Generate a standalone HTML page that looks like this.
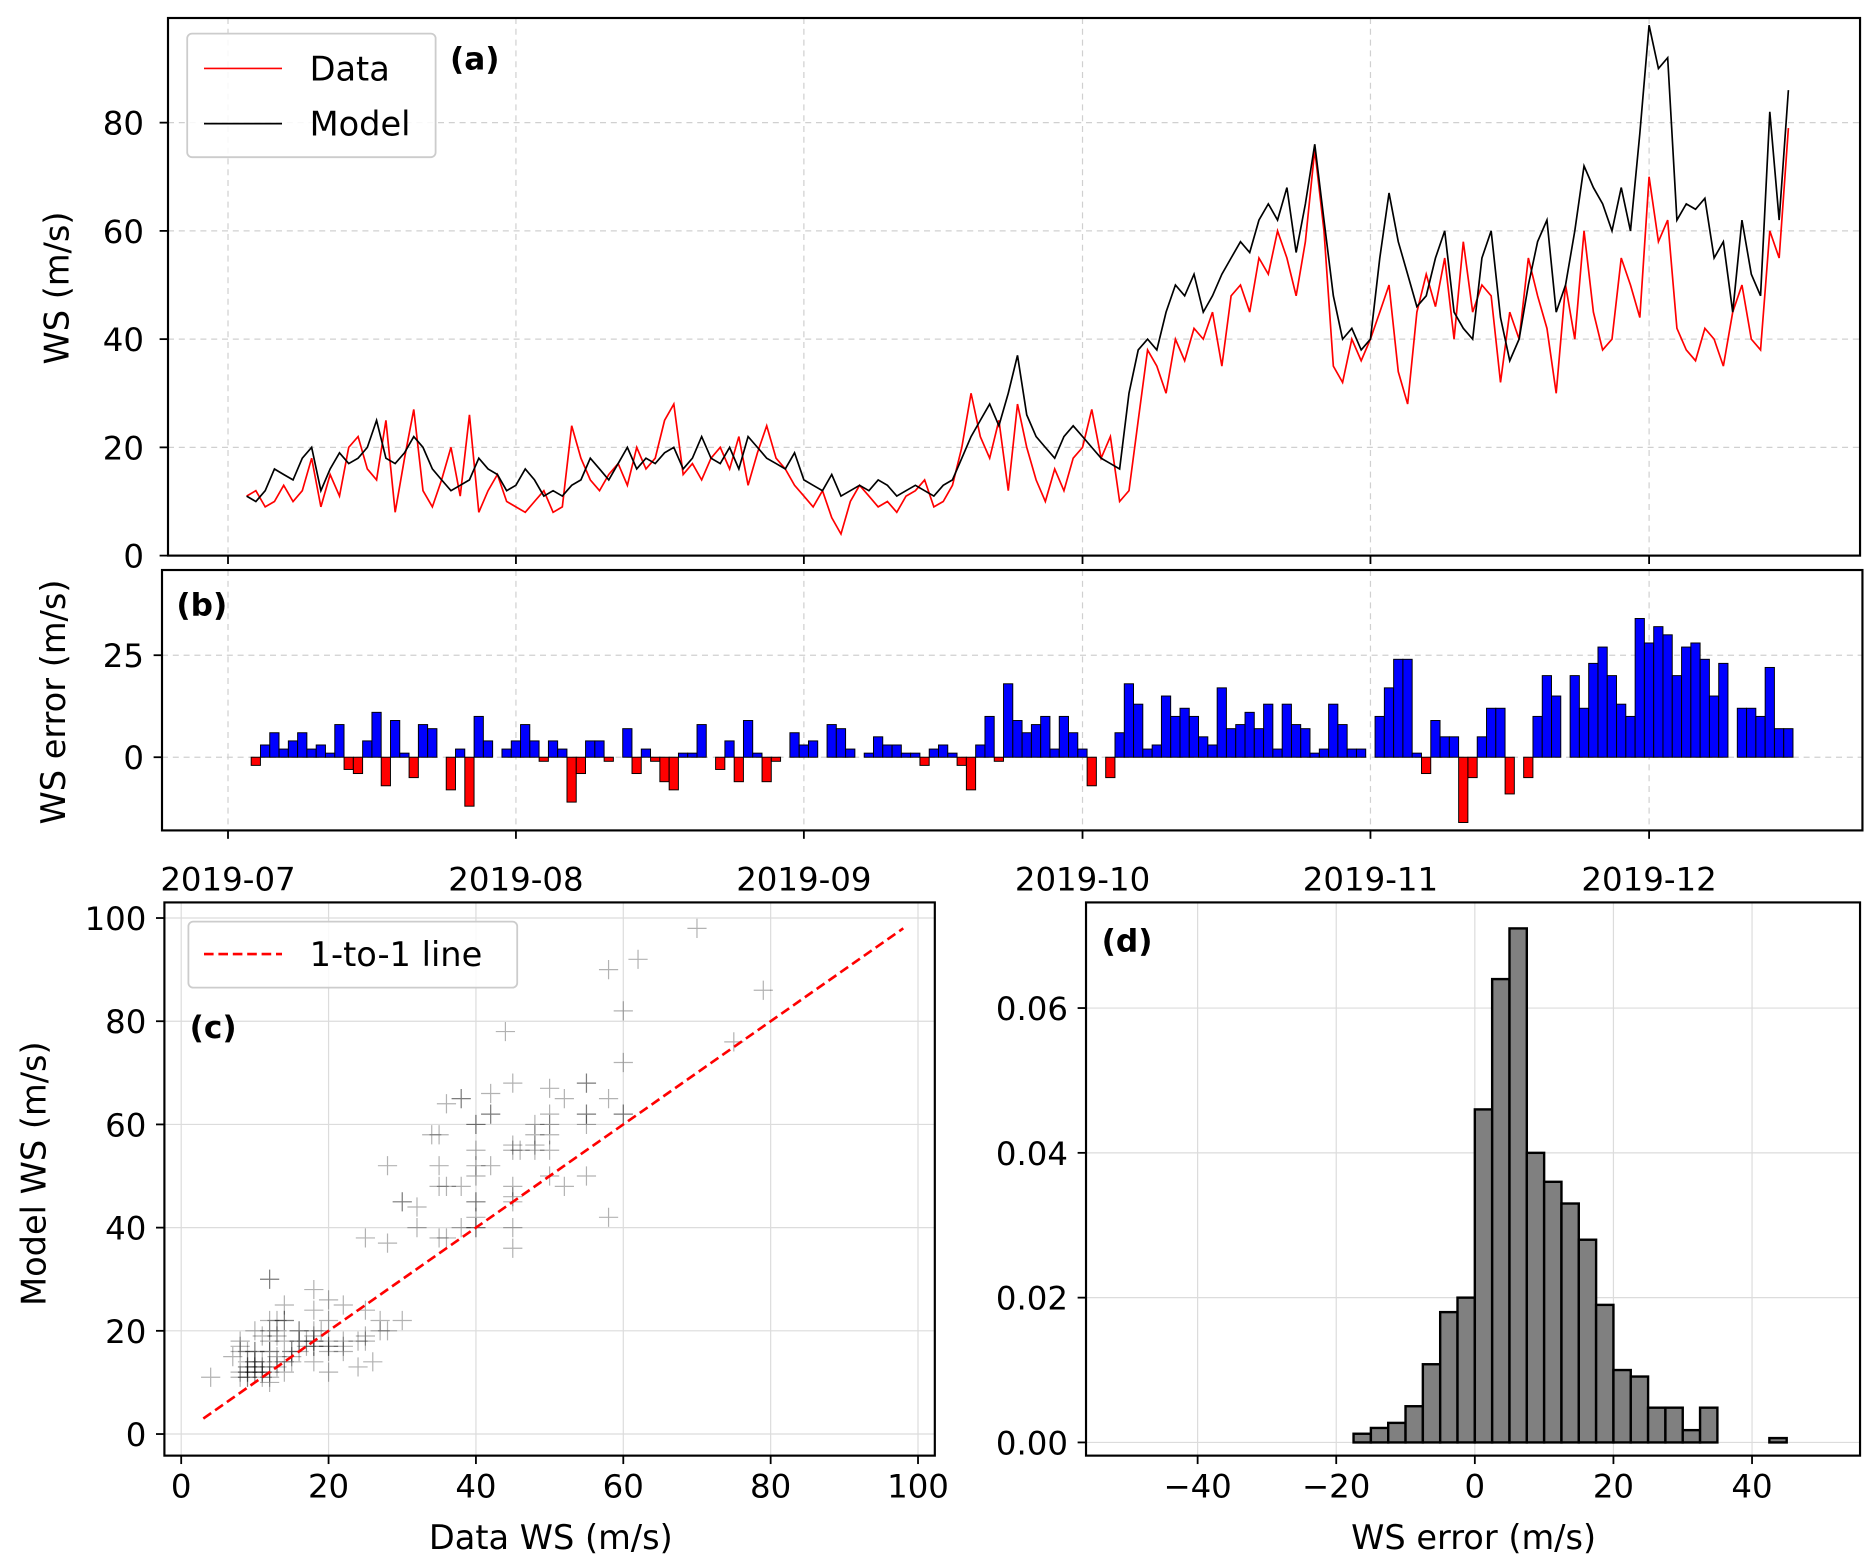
<!DOCTYPE html>
<html><head><meta charset="utf-8"><style>
html,body{margin:0;padding:0;background:#fff;}
svg{display:block;font-family:"DejaVu Sans","Liberation Sans",sans-serif;}
</style></head><body>
<svg id="fig" width="1873" height="1567" viewBox="0 0 1560.8 1305.8" xmlns="http://www.w3.org/2000/svg"></svg>
<script>
// ---- data (daily, starting 2019-07-03) ----
const startDay = 2; // days after 2019-07-01
const dataWS = [11,12,9,10,13,10,12,18,
9,15,11,20,22,16,14,25,8,18,
27,12,9,14,20,11,26,8,12,15,10,
9,8,10,12,8,9,24,18,14,12,
15,17,13,20,16,18,25,28,15,17,
14,18,20,16,22,13,19,24,18,16,13,
11,9,12,7,4,10,13,11,9,10,
8,11,12,14,9,10,13,20,30,22,
18,25,12,28,20,14,10,16,12,18,
20,27,18,22,10,12,25,38,35,30,
40,36,42,40,45,35,48,50,45,55,
52,60,55,48,58,75,60,35,32,40,36,
40,45,50,34,28,45,52,46,55,40,
58,45,50,48,32,45,40,55,48,42,
30,50,40,60,45,38,40,55,50,44,
70,58,62,42,38,36,42,40,35,45,50,40,38,60,55,79];
const modelWS = [11,10,12,16,15,14,18,20,
12,16,19,17,18,20,25,18,17,19,
22,20,16,14,12,13,14,18,16,15,12,
13,16,14,11,12,11,13,14,18,16,
14,17,20,16,18,17,19,20,16,18,
22,18,17,20,16,22,20,18,17,16,19,
14,13,12,15,11,12,13,12,14,13,
11,12,13,12,11,13,14,18,22,25,
28,24,30,37,26,22,20,18,22,24,
22,20,18,17,16,30,38,40,38,45,
50,48,52,45,48,52,55,58,56,62,
65,62,68,56,65,76,62,48,40,42,38,
40,55,67,58,52,46,48,55,60,45,
42,40,55,60,44,36,40,50,58,62,
45,50,60,72,68,65,60,68,60,78,
98,90,92,62,65,64,66,55,58,45,62,52,48,82,62,86];
const dateTicks = ["2019-07","2019-08","2019-09","2019-10","2019-11","2019-12"];
const dateTickDays = [0,31,62,92,123,153];
const aTicks = [0,20,40,60,80];
const bTicks = [0,25];
const cTicks = [0,20,40,60,80,100];
const histStart = -50;
const histBinW = 2.5;
// 40 bins from -50 to 50
const histDensity = [0,0,0,0,0,0,0,0,0,0,0,0,0,0.0012,0.002,0.0027,0.005,0.0108,0.018,0.020,0.046,0.064,0.071,0.040,0.036,0.033,0.028,0.019,0.010,0.0091,0.0048,0.0048,0.0017,0.0048,0,0,0,0.0006,0,0];
const dXTicks = [-40,-20,0,20,40];
const dYTicks = [0,0.02,0.04,0.06];

const NS="http://www.w3.org/2000/svg";
const svg=document.getElementById('fig');
function el(tag,attrs,parent){const e=document.createElementNS(NS,tag);for(const k in attrs)e.setAttribute(k,attrs[k]);(parent||svg).appendChild(e);return e;}
function txt(s,x,y,attrs,parent){const e=el('text',Object.assign({x:x,y:y,'font-size':27,fill:'#000'},attrs||{}),parent);e.textContent=s;return e;}

const xDay=d=>190+d*7.74;
const yA=v=>463-v*4.51;
const yB=v=>631-v*3.4;
const xC=v=>151+v*6.14, yC=v=>1195-v*4.3;
const xD=v=>1229+v*5.775, yD=v=>1202-v*6033;

// ---------- Panel A ----------
const gA=el('g',{});


dateTickDays.forEach(d=>{el('line',{x1:xDay(d),x2:xDay(d),y1:15,y2:463,stroke:'#d0d0d0','stroke-dasharray':'5,4','stroke-width':1},gA);
 el('line',{x1:xDay(d),x2:xDay(d),y1:463,y2:470,stroke:'#000','stroke-width':1.5},gA);});
aTicks.forEach(v=>{el('line',{x1:140,x2:1550,y1:yA(v),y2:yA(v),stroke:'#d0d0d0','stroke-dasharray':'5,4'},gA);
 el('line',{x1:133,x2:140,y1:yA(v),y2:yA(v),stroke:'#000','stroke-width':1.5},gA);
 const t=txt(String(v),120,yA(v)+10,{'text-anchor':'end'},gA);
 
 });
function linePath(arr){return arr.map((v,i)=>(i?'L':'M')+xDay(startDay+i).toFixed(1)+','+yA(v).toFixed(1)).join('');}
const pData=el('path',{d:linePath(dataWS),fill:'none',stroke:'#ff0000','stroke-width':1.4},gA);


const pModel=el('path',{d:linePath(modelWS),fill:'none',stroke:'#000','stroke-width':1.4},gA);


el('rect',{x:140,y:15,width:1410,height:448,fill:'none',stroke:'#000','stroke-width':1.8},gA);
const legA=el('g',{},gA);


el('rect',{x:156,y:28,width:207,height:103,rx:4,fill:'#fff','fill-opacity':0.85,stroke:'#ccc','stroke-width':1.5},legA);
el('line',{x1:170,x2:235,y1:57,y2:57,stroke:'#ff0000','stroke-width':1.4},legA);
txt('Data',258,67,{'font-size':28},legA);
el('line',{x1:170,x2:235,y1:103,y2:103,stroke:'#000','stroke-width':1.4},legA);
txt('Model',258,113,{'font-size':28},legA);
txt('(a)',375,58,{'font-weight':'bold','font-size':26},gA);
const yla=txt('WS (m/s)',0,0,{'font-size':28,'text-anchor':'middle',transform:'translate(57,240) rotate(-90)'},gA);



// ---------- Panel B ----------
const gB=el('g',{});


dateTickDays.forEach((d,i)=>{el('line',{x1:xDay(d),x2:xDay(d),y1:475,y2:692,stroke:'#d0d0d0','stroke-dasharray':'5,4'},gB);
 el('line',{x1:xDay(d),x2:xDay(d),y1:692,y2:699,stroke:'#000','stroke-width':1.5},gB);
 const t=txt(dateTicks[i],xDay(d),742,{'text-anchor':'middle'},gB);
 
 });
bTicks.forEach(v=>{el('line',{x1:135,x2:1552,y1:yB(v),y2:yB(v),stroke:'#d0d0d0','stroke-dasharray':'5,4'},gB);
 el('line',{x1:128,x2:135,y1:yB(v),y2:yB(v),stroke:'#000','stroke-width':1.5},gB);
 txt(String(v),120,yB(v)+10,{'text-anchor':'end'},gB);});
modelWS.forEach((m,i)=>{const e=m-dataWS[i];const x=xDay(startDay+i)-3.9;
 const r=el('rect',{x:x,y:Math.min(yB(0),yB(e)),width:7.7,height:Math.abs(yB(e)-yB(0)),fill:e>=0?'#0000ff':'#ff0000',stroke:'#000','stroke-width':0.8},gB);
 
 });
el('rect',{x:135,y:475,width:1417,height:217,fill:'none',stroke:'#000','stroke-width':1.8},gB);
txt('(b)',147,513,{'font-weight':'bold','font-size':26},gB);
txt('WS error (m/s)',0,0,{'font-size':28,'text-anchor':'middle',transform:'translate(54,585) rotate(-90)'},gB);

// ---------- Panel C ----------
const gC=el('g',{});


cTicks.forEach(v=>{el('line',{x1:xC(v),x2:xC(v),y1:752,y2:1213,stroke:'#dcdcdc'},gC);
 el('line',{x1:137,x2:779,y1:yC(v),y2:yC(v),stroke:'#dcdcdc'},gC);
 el('line',{x1:xC(v),x2:xC(v),y1:1213,y2:1220,stroke:'#000','stroke-width':1.5},gC);
 el('line',{x1:130,x2:137,y1:yC(v),y2:yC(v),stroke:'#000','stroke-width':1.5},gC);
 txt(String(v),xC(v),1248,{'text-anchor':'middle'},gC);
 txt(String(v),122,yC(v)+10,{'text-anchor':'end'},gC);});
dataWS.forEach((d,i)=>{const x=xC(d),y=yC(modelWS[i]);
 const p=el('path',{d:`M${x-8},${y}H${x+8}M${x},${y-8}V${y+8}`,stroke:'#000','stroke-opacity':0.3,'stroke-width':1},gC);
 
 });
const one=el('line',{x1:xC(3),y1:yC(3),x2:xC(98),y2:yC(98),stroke:'#ff0000','stroke-width':2.2,'stroke-dasharray':'8,4'},gC);


el('rect',{x:137,y:752,width:642,height:461,fill:'none',stroke:'#000','stroke-width':1.8},gC);
const legC=el('g',{},gC);


el('rect',{x:157,y:768,width:274,height:55,rx:4,fill:'#fff','fill-opacity':0.85,stroke:'#ccc','stroke-width':1.5},legC);
el('line',{x1:170,x2:235,y1:795,y2:795,stroke:'#ff0000','stroke-width':2.2,'stroke-dasharray':'8,4'},legC);
txt('1-to-1 line',258,805,{'font-size':28},legC);
txt('(c)',158,865,{'font-weight':'bold','font-size':26},gC);
txt('Model WS (m/s)',0,0,{'font-size':28,'text-anchor':'middle',transform:'translate(38,978) rotate(-90)'},gC);
txt('Data WS (m/s)',459,1291,{'font-size':28,'text-anchor':'middle'},gC);

// ---------- Panel D ----------
const gD=el('g',{});


dXTicks.forEach(v=>{el('line',{x1:xD(v),x2:xD(v),y1:752,y2:1213,stroke:'#dcdcdc'},gD);
 el('line',{x1:xD(v),x2:xD(v),y1:1213,y2:1220,stroke:'#000','stroke-width':1.5},gD);
 txt(v<0?'\u2212'+Math.abs(v):String(v),xD(v),1248,{'text-anchor':'middle'},gD);});
dYTicks.forEach(v=>{el('line',{x1:905,x2:1550,y1:yD(v),y2:yD(v),stroke:'#dcdcdc'},gD);
 el('line',{x1:898,x2:905,y1:yD(v),y2:yD(v),stroke:'#000','stroke-width':1.5},gD);
 txt(v.toFixed(2),890,yD(v)+10,{'text-anchor':'end'},gD);});
histDensity.forEach((h,i)=>{const a=histStart+i*histBinW;const x0=xD(a),x1=xD(a+histBinW);
 const r=el('rect',{x:x0,y:yD(h),width:x1-x0,height:yD(0)-yD(h),fill:'#808080',stroke:'#000','stroke-width':2},gD);
 
 });
el('rect',{x:905,y:752,width:645,height:461,fill:'none',stroke:'#000','stroke-width':1.8},gD);
txt('(d)',918,793,{'font-weight':'bold','font-size':26},gD);
txt('WS error (m/s)',1228,1291,{'font-size':28,'text-anchor':'middle'},gD);
</script>
</body></html>
